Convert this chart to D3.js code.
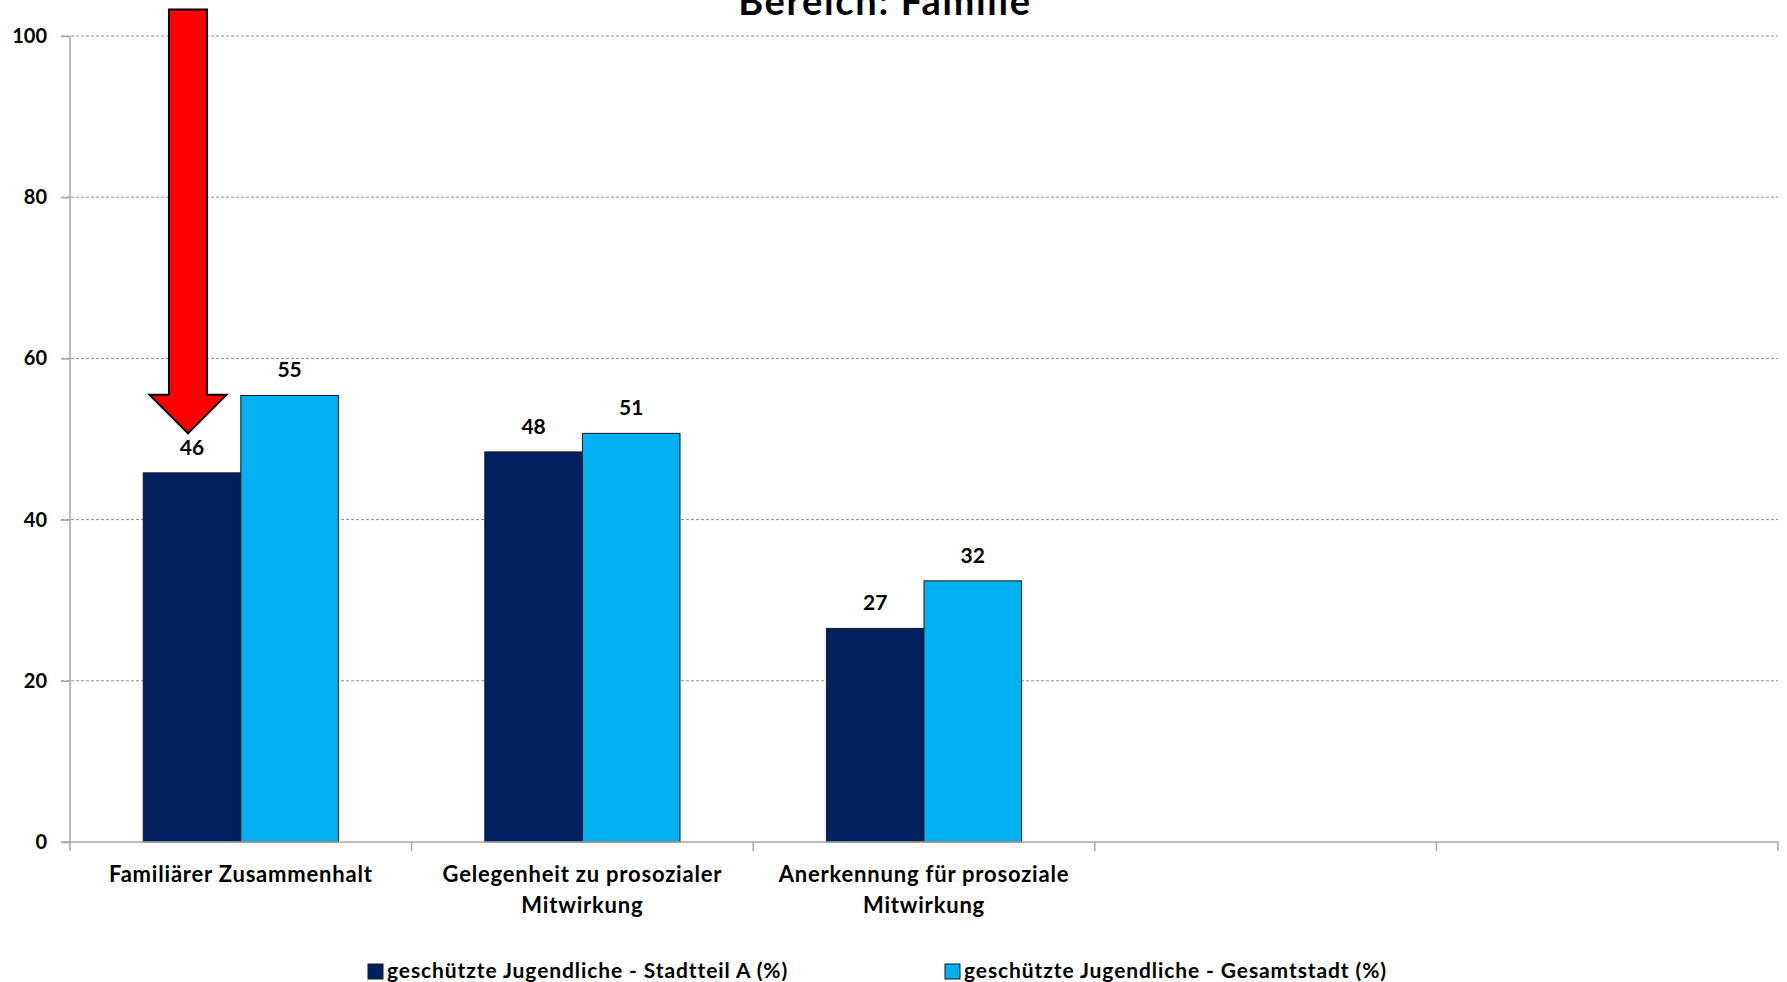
<!DOCTYPE html>
<html>
<head>
<meta charset="utf-8">
<script src="https://cdn.jsdelivr.net/npm/d3@7"></script>
<style>
  html, body { margin: 0; padding: 0; background: #ffffff; }
  svg { display: block; font-family: Lato, "Open Sans", sans-serif; }
</style>
</head>
<body>
<svg id="chart" width="1787" height="982"></svg>
<script>
// Category slots (the last two are empty in this chart)
const categories = [
  "Familiärer Zusammenhalt",
  "Gelegenheit zu prosozialer Mitwirkung",
  "Anerkennung für prosoziale Mitwirkung",
  "",
  " "
];
const seriesNames = [
  "geschützte Jugendliche - Stadtteil A (%)",
  "geschützte Jugendliche - Gesamtstadt (%)"
];
const stadtteilA = [45.8, 48.4, 26.5];
const gesamtstadt = [55.4, 50.7, 32.4];
const seriesColors = ["#002060", "#00b0f0"];
const yTicks = [0, 20, 40, 60, 80, 100];
const chartTitle = "Bereich: Familie";

const svg = d3.select("#chart");
const W = 1787, H = 982;
const margin = { top: 36, right: 9, bottom: 140, left: 70 };
const plotW = W - margin.left - margin.right;
const plotH = H - margin.top - margin.bottom;

const g = svg.append("g").attr("transform", `translate(${margin.left},${margin.top})`);

const x = d3.scaleBand().domain(categories).range([0, plotW]).paddingInner(0).paddingOuter(0);
// Excel-like clustered bars: gap width 150% -> cluster = 2 bars, 0.75 bar gap on each side
const barW = x.bandwidth() / 3.5;
const x1 = d3.scaleBand().domain([0, 1]).range([0.75 * barW, 2.75 * barW]).padding(0);
const y = d3.scaleLinear().domain([0, 100]).range([plotH, 0]);

// Gridlines
g.append("g")
  .selectAll("line")
  .data(yTicks.filter(t => t > 0))
  .join("line")
  .attr("x1", -9).attr("x2", plotW)
  .attr("y1", d => y(d)).attr("y2", d => y(d))
  .attr("stroke", "#8c8c8c")
  .attr("stroke-width", 1)
  .attr("stroke-dasharray", "3,2");

// Y axis
const yAxis = g.append("g")
  .call(d3.axisLeft(y).tickValues(yTicks).tickSize(9).tickPadding(14).tickFormat(d3.format("d")));
yAxis.select(".domain").attr("stroke", "#a6a6a6").attr("stroke-width", 1.5)
  .attr("d", `M0,${plotH}V0`);
yAxis.selectAll(".tick line").attr("stroke", "#a6a6a6").attr("stroke-width", 1.5);
yAxis.selectAll(".tick text")
  .attr("font-size", 20).attr("font-weight", 700).attr("fill", "#000")
  .attr("font-family", "Lato, sans-serif");

// Bars
const rows = categories.slice(0, stadtteilA.length).map((c, i) => ({
  cat: c, vals: [stadtteilA[i], gesamtstadt[i]]
}));

const groups = g.append("g").selectAll("g")
  .data(rows)
  .join("g")
  .attr("transform", d => `translate(${x(d.cat)},0)`);

groups.selectAll("rect")
  .data(d => d.vals.map((v, k) => ({ v, k })))
  .join("rect")
  .attr("x", d => x1(d.k))
  .attr("width", x1.bandwidth())
  .attr("y", d => y(d.v))
  .attr("height", d => y(0) - y(d.v))
  .attr("fill", d => seriesColors[d.k])
  .attr("stroke", "#1a1a1a")
  .attr("stroke-width", 1);

groups.selectAll("text.val")
  .data(d => d.vals.map((v, k) => ({ v, k })))
  .join("text")
  .attr("class", "val")
  .attr("x", d => x1(d.k) + x1.bandwidth() / 2)
  .attr("y", d => y(d.v) - 18)
  .attr("text-anchor", "middle")
  .attr("font-size", 21)
  .attr("font-weight", 700)
  .attr("fill", "#000")
  .text(d => d3.format(".0f")(d.v));

// X axis
const xAxis = g.append("g").attr("transform", `translate(0,${plotH})`);
xAxis.append("line")
  .attr("x1", -9).attr("x2", plotW).attr("y1", 0).attr("y2", 0)
  .attr("stroke", "#a6a6a6").attr("stroke-width", 1.5);
const boundaries = categories.map(c => x(c)).concat([plotW]);
xAxis.selectAll("line.tk")
  .data(boundaries)
  .join("line")
  .attr("class", "tk")
  .attr("x1", d => d).attr("x2", d => d)
  .attr("y1", 0).attr("y2", 9)
  .attr("stroke", "#a6a6a6").attr("stroke-width", 1.5);

// Category labels, wrapped to fit the band
const labelG = xAxis.selectAll("text.cat")
  .data(categories.filter(c => c.trim() !== ""))
  .join("text")
  .attr("class", "cat")
  .attr("text-anchor", "middle")
  .attr("font-size", 22)
  .attr("letter-spacing", 0.8)
  .attr("font-weight", 700)
  .attr("fill", "#000")
  .attr("transform", d => `translate(${x(d) + x.bandwidth() / 2},40)`);

labelG.each(function (d) {
  const t = d3.select(this);
  const words = d.split(" ");
  const maxW = x.bandwidth() * 0.9;
  let line = [];
  let tspan = t.append("tspan").attr("x", 0).attr("dy", 0);
  words.forEach(w => {
    line.push(w);
    tspan.text(line.join(" "));
    if (tspan.node().getComputedTextLength() > maxW && line.length > 1) {
      line.pop();
      tspan.text(line.join(" "));
      line = [w];
      tspan = t.append("tspan").attr("x", 0).attr("dy", 31).text(w);
    }
  });
});

// Title
svg.append("text")
  .attr("x", 885)
  .attr("y", 15)
  .attr("text-anchor", "middle")
  .attr("font-size", 38)
  .attr("letter-spacing", 1.7)
  .attr("font-weight", 700)
  .attr("fill", "#000")
  .text(chartTitle);

// Legend
const legend = svg.append("g").attr("transform", "translate(368,964)");
const items = legend.selectAll("g")
  .data(seriesNames)
  .join("g")
  .attr("transform", (d, i) => `translate(${i * 577},0)`);
items.append("rect")
  .attr("width", 15).attr("height", 15)
  .attr("fill", (d, i) => seriesColors[i])
  .attr("stroke", "#1a1a1a").attr("stroke-width", 1);
items.append("text")
  .attr("x", 19).attr("y", 14)
  .attr("font-size", 21).attr("letter-spacing", 0.9)
  .attr("font-weight", 700).attr("fill", "#000")
  .text(d => d);

// Red callout arrow pointing at the Stadtteil A bar of the first category
const target = rows[0];
const cx = margin.left + x(target.cat) + x1(0) + x1.bandwidth() / 2 - 4;
const shaftHalf = x1.bandwidth() * 0.195;
const headHalf = x1.bandwidth() * 0.395;
const yTop = margin.top + y(103.3);
const yHead = margin.top + y(55.5);
const yTip = margin.top + y(50.7);
const arrowPath = d3.path();
arrowPath.moveTo(cx - shaftHalf, yTop);
arrowPath.lineTo(cx + shaftHalf, yTop);
arrowPath.lineTo(cx + shaftHalf, yHead);
arrowPath.lineTo(cx + headHalf, yHead);
arrowPath.lineTo(cx, yTip);
arrowPath.lineTo(cx - headHalf, yHead);
arrowPath.lineTo(cx - shaftHalf, yHead);
arrowPath.closePath();
svg.append("path")
  .attr("d", arrowPath.toString())
  .attr("fill", "#ff0000")
  .attr("stroke", "#000")
  .attr("stroke-width", 2)
  .attr("stroke-linejoin", "miter");
</script>
</body>
</html>
